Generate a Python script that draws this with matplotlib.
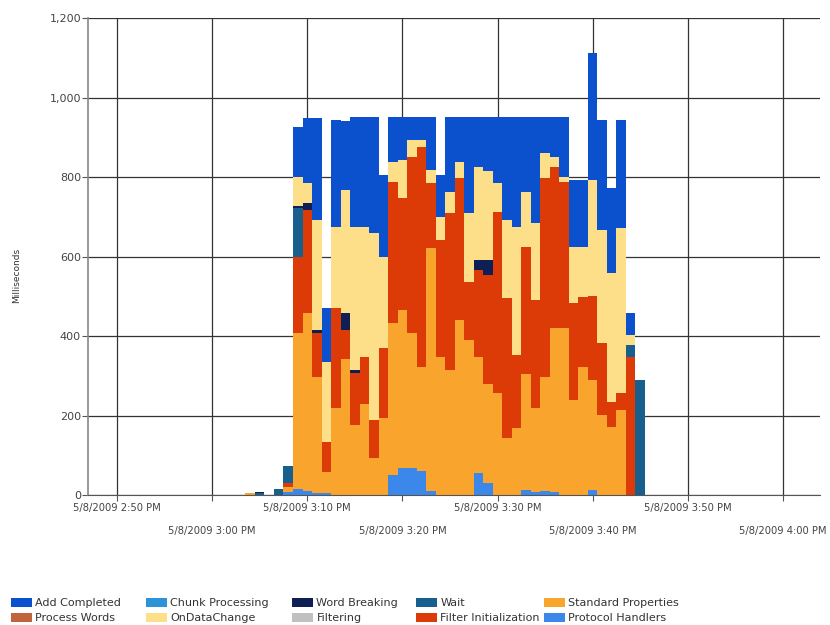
import numpy as np
import matplotlib
matplotlib.use('Agg')
import matplotlib.pyplot as plt

# data - one bar per minute, x = minutes after 5/8/2009 2:50 PM
minute = list(range(14, 56))

protocol_handlers = [0, 0, 0, 0, 8,
                     15, 10, 5, 5, 0, 0, 0, 0, 0, 0, 50, 68, 68, 60, 10, 0, 0, 0, 0,
                     55, 30, 0, 0, 0, 12, 8, 10, 8, 0, 0, 0, 12, 0, 0, 0, 0, 0]
standard_properties = [5, 0, 0, 0, 12,
                       392, 447, 292, 53, 219, 343, 176, 228, 93, 194, 382, 397, 339, 262, 611, 348, 314, 440, 390,
                       293, 250, 256, 143, 168, 293, 212, 287, 412, 420, 239, 323, 278, 201, 171, 214, 0, 0]
filter_init = [0, 0, 0, 0, 10,
               192, 259, 110, 75, 251, 72, 131, 119, 96, 176, 356, 282, 444, 554, 164, 293, 395, 358, 146,
               218, 273, 456, 352, 184, 319, 271, 500, 406, 368, 244, 176, 212, 181, 63, 42, 347, 0]
wait = [0, 4, 0, 15, 42,
        123, 0, 0, 0, 0, 0, 0, 0, 0, 0, 0, 0, 0, 0, 0, 0, 0, 0, 0,
        0, 0, 0, 0, 0, 0, 0, 0, 0, 0, 0, 0, 0, 0, 0, 0, 30, 289]
filtering = [0] * 42
word_breaking = [0, 3, 0, 0, 0,
                 6, 18, 8, 0, 0, 42, 8, 0, 0, 0, 0, 0, 0, 0, 0, 0, 0, 0, 0,
                 25, 38, 0, 0, 0, 0, 0, 0, 0, 0, 0, 0, 0, 0, 0, 0, 0, 0]
on_data_change = [0, 0, 0, 0, 0,
                  72, 51, 277, 202, 205, 310, 360, 328, 470, 228, 51, 96, 42, 17, 33, 59, 53, 39, 173,
                  235, 224, 73, 197, 323, 139, 193, 63, 24, 12, 142, 126, 290, 285, 324, 416, 25, 0]
chunk_processing = [0] * 42
process_words = [0] * 42
add_completed = [0, 0, 0, 0, 0,
                 126, 163, 256, 135, 268, 173, 276, 276, 292, 207, 112, 108, 58, 58, 133, 105, 189, 114, 242,
                 125, 136, 166, 259, 276, 188, 267, 91, 101, 151, 167, 167, 320, 276, 214, 271, 56, 0]

# series from bottom of the stack to the top
series = [
    ('Protocol Handlers', protocol_handlers, '#3b88ea'),
    ('Standard Properties', standard_properties, '#f9a42c'),
    ('Filter Initialization', filter_init, '#dc3a06'),
    ('Wait', wait, '#17608e'),
    ('Filtering', filtering, '#c0c0c0'),
    ('Word Breaking', word_breaking, '#0d1f55'),
    ('OnDataChange', on_data_change, '#fddf8a'),
    ('Chunk Processing', chunk_processing, '#2b93d6'),
    ('Process Words', process_words, '#c0643c'),
    ('Add Completed', add_completed, '#0b50cc'),
]

tick_pos = [0, 10, 20, 30, 40, 50, 60, 70]
tick_lab = ['5/8/2009 2:50 PM', '5/8/2009 3:00 PM', '5/8/2009 3:10 PM', '5/8/2009 3:20 PM',
            '5/8/2009 3:30 PM', '5/8/2009 3:40 PM', '5/8/2009 3:50 PM', '5/8/2009 4:00 PM']

# legend columns (top, bottom)
legend_cols = [('Add Completed', 'Process Words'),
               ('Chunk Processing', 'OnDataChange'),
               ('Word Breaking', 'Filtering'),
               ('Wait', 'Filter Initialization'),
               ('Standard Properties', 'Protocol Handlers')]

# plot
fig = plt.figure(figsize=(8.3, 6.25), dpi=100)
ax = fig.add_axes([0.106, 0.208, 0.882, 0.763])

bottom = np.zeros(len(minute))
handles = {}
for name, vals, col in series:
    vals = np.array(vals, dtype=float)
    h = ax.bar(minute, vals, width=1.0, bottom=bottom, color=col, linewidth=0,
               antialiased=False, label=name)
    handles[name] = h
    bottom += vals

ax.set_xlim(-3.05, 73.9)
ax.set_ylim(0, 1200)
ax.set_yticks(range(0, 1201, 200))
ax.set_yticklabels(['{:,}'.format(v) for v in range(0, 1201, 200)])

ax.set_xticks(tick_pos[0::2], tick_lab[0::2])
ax.set_xticks(tick_pos[1::2], tick_lab[1::2], minor=True)
ax.tick_params(axis='x', which='major', pad=2, labelsize=7.2, labelcolor='#444444')
ax.tick_params(axis='x', which='minor', pad=18, labelsize=7.2, labelcolor='#444444')
ax.tick_params(axis='both', which='both', direction='out', length=4, width=0.8, color='#555555')
ax.tick_params(axis='y', labelsize=8, labelcolor='#444444', pad=1)

ax.set_axisbelow(True)
ax.grid(which='both', color='#333333', linewidth=0.9)

for s in ['top', 'right']:
    ax.spines[s].set_visible(False)
ax.spines['left'].set_color('#888888')
ax.spines['left'].set_linewidth(1.2)
ax.spines['bottom'].set_color('#555555')

ax.set_ylabel('Milliseconds', fontsize=6.5, color='#333333')
ax.yaxis.set_label_coords(-0.092, 0.46)

# one legend per column so the columns sit where the reference has them
col_x = [11, 146, 292, 416, 544]
for x0, names in zip(col_x, legend_cols):
    fig.legend([handles[n] for n in names], names, loc='upper left',
               bbox_to_anchor=(x0 / 830, 1 - 598 / 625), ncol=1, frameon=False, fontsize=8,
               handlelength=1.9, handleheight=0.8, handletextpad=0.3,
               labelspacing=0.45, borderpad=0, borderaxespad=0, labelcolor='#333333')

plt.savefig('out.png', dpi=100)
plt.close()
